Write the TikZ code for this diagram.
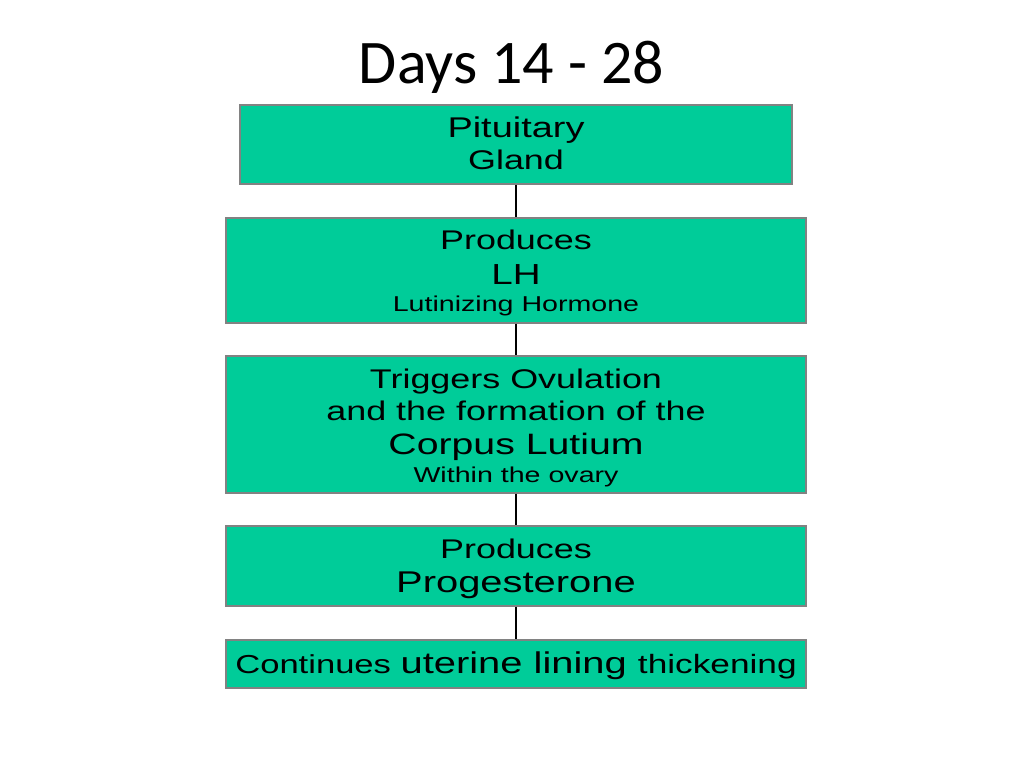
\documentclass[tikz,border=0pt]{standalone}
\usepackage{fontspec}
\newfontfamily\boxfont[FakeStretch=1.33]{Liberation Sans}
\newfontfamily\titlefont{Carlito}
\definecolor{boxgreen}{RGB}{0,204,153}
\definecolor{boxedge}{RGB}{130,130,130}
\newcommand{\fsz}[1]{\fontsize{#1}{#1}\selectfont}
\newcommand{\hgt}[1]{\rule{0pt}{#1}}
\newcommand{\dpt}[1]{\rule[-#1]{0pt}{#1}}
\begin{document}
\begin{tikzpicture}[x=1pt,y=-1pt,
  flowbox/.style={draw=boxedge, line width=1.2pt, fill=boxgreen, inner sep=0pt, align=center,
     font=\boxfont\fontsize{26}{26}\selectfont, text=black},
  link/.style={draw=black, line width=1.4pt}]
\useasboundingbox (0,0) rectangle (1024,768);
\node[anchor=base, font=\titlefont\fontsize{62}{62}\selectfont] (title) at (511.5,83) {Days 14 - 28};
\node[flowbox, minimum width=552pt, minimum height=79pt] (pit) at (516,144.5)
  {\hgt{32pt}\fsz{28.5}Pituitary\\[6pt]\fsz{27}Gland\dpt{15pt}};
\node[flowbox, minimum width=580pt, minimum height=105pt] (lh) at (516,270.5)
  {\hgt{31pt}\fsz{27}Produces\\[9pt]\fsz{29}LH\\[1pt]\fsz{21.5}Lutinizing Hormone\dpt{12pt}};
\node[flowbox, minimum width=580pt, minimum height=137pt] (cl) at (516,424.5)
  {\hgt{32pt}\fsz{27}Triggers Ovulation\\[6pt]\fsz{27}and the formation of the\\[8pt]\fsz{29.5}Corpus Lutium\\[2pt]\fsz{21.5}Within the ovary\dpt{11pt}};
\node[flowbox, minimum width=580pt, minimum height=80pt] (pg) at (516,566)
  {\hgt{32pt}\fsz{27}Produces\\[8pt]\fsz{30}Progesterone\dpt{14pt}};
\node[flowbox, minimum width=580pt, minimum height=48pt] (ut) at (516,664)
  {\hgt{33pt}\fsz{26}Continues \fsz{30}uterine lining \fsz{26.5}thickening\dpt{15pt}};
\draw[link] (pit.south) -- (lh.north);
\draw[link] (lh.south) -- (cl.north);
\draw[link] (cl.south) -- (pg.north);
\draw[link] (pg.south) -- (ut.north);
\end{tikzpicture}
\end{document}
